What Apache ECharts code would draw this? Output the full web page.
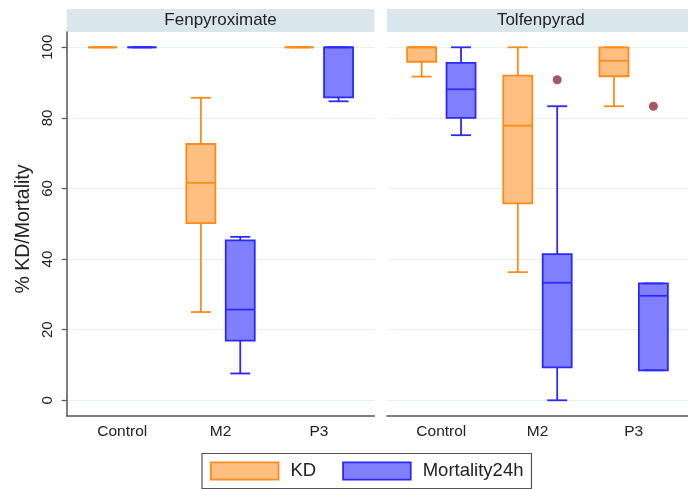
<!DOCTYPE html>
<html><head><meta charset="utf-8">
<script src="https://cdn.jsdelivr.net/npm/echarts@6/dist/echarts.min.js"></script>
<style>html,body{margin:0;padding:0;background:#fff}#c{width:688px;height:489px}</style>
</head><body><div id="c"></div>
<script>
const categories = ['Control', 'M2', 'P3'];
const panels = ['Fenpyroximate', 'Tolfenpyrad'];
const seriesNames = ['KD', 'Mortality24h'];
const yTicks = [0, 20, 40, 60, 80, 100];
// each row: [low whisker, Q1, median, Q3, high whisker] for Control, M2, P3
const fenKD = [[100, 100, 100, 100, 100], [25.0, 50.2, 61.6, 72.6, 85.7], [100, 100, 100, 100, 100]];
const fenMort = [[100, 100, 100, 100, 100], [7.6, 16.9, 25.7, 45.3, 46.3], [84.7, 85.8, 100, 100, 100]];
const tolKD = [[91.7, 95.9, 100, 100, 100], [36.3, 55.8, 77.8, 92.0, 100], [83.3, 91.8, 96.2, 100, 100]];
const tolMort = [[75.1, 80.0, 88.1, 95.6, 100], [0, 9.3, 33.3, 41.4, 83.3], [8.5, 8.5, 29.6, 33.1, 33.1]];
const fenMortOutliers = [];
const tolMortOutliers = [[1, 90.8], [2, 83.3]];

const FONT = '"Liberation Sans", Arial, sans-serif';
const KD_FILL = '#ffbf80', KD_STROKE = '#ff8c1a';
const MO_FILL = '#8080ff', MO_STROKE = '#2a2aff';
const OUT_COLOR = '#8e2e38';
const SIDE_OFF = 19.7, HALF_BOX = 14.5, HALF_CAP = 10, LW = 1.8;

const gridLeft = [66.7, 387];
const gridW = 307.7, gridTop = 32, gridH = 384;

function makeRender(side, fill, stroke) {
  return function (params, api) {
    const x = api.value(0);
    const cx = api.coord([x, 0])[0] + side * SIDE_OFF;
    const yLo = api.coord([x, api.value(1)])[1];
    const yQ1 = api.coord([x, api.value(2)])[1];
    const yMed = api.coord([x, api.value(3)])[1];
    const yQ3 = api.coord([x, api.value(4)])[1];
    const yHi = api.coord([x, api.value(5)])[1];
    const ls = { stroke: stroke, lineWidth: LW, fill: null };
    return {
      type: 'group',
      children: [
        { type: 'rect', shape: { x: cx - HALF_BOX, y: yQ3, width: 2 * HALF_BOX, height: yQ1 - yQ3 }, style: { fill: fill, stroke: stroke, lineWidth: LW } },
        { type: 'line', shape: { x1: cx, y1: yHi, x2: cx, y2: yQ3 }, style: ls },
        { type: 'line', shape: { x1: cx, y1: yQ1, x2: cx, y2: yLo }, style: ls },
        { type: 'line', shape: { x1: cx - HALF_CAP, y1: yHi, x2: cx + HALF_CAP, y2: yHi }, style: ls },
        { type: 'line', shape: { x1: cx - HALF_CAP, y1: yLo, x2: cx + HALF_CAP, y2: yLo }, style: ls },
        { type: 'line', shape: { x1: cx - HALF_BOX, y1: yMed, x2: cx + HALF_BOX, y2: yMed }, style: ls }
      ]
    };
  };
}

function toData(stats) { return stats.map((s, i) => [i].concat(s)); }

const panelData = [
  { kd: fenKD, mort: fenMort, out: fenMortOutliers },
  { kd: tolKD, mort: tolMort, out: tolMortOutliers }
];

const grids = gridLeft.map(l => ({ left: l, top: gridTop, width: gridW, height: gridH }));
const xAxes = panels.map((p, i) => ({
  type: 'value', gridIndex: i, min: -0.565, max: 2.565,
  axisLine: { show: true, onZero: false, lineStyle: { color: '#555', width: 1.5 } },
  axisTick: { show: false, customValues: [0, 1, 2] },
  axisLabel: { customValues: [0, 1, 2], formatter: v => categories[v], fontSize: 15.5, color: '#222', margin: 8, fontFamily: FONT },
  splitLine: { show: false }
}));
const yAxes = panels.map((p, i) => ({
  type: 'value', gridIndex: i, min: -4.45, max: 104.33,
  axisLine: { show: i === 0, onZero: false, lineStyle: { color: '#555', width: 1.5 } },
  axisTick: { show: i === 0, length: 5, customValues: yTicks, lineStyle: { color: '#555', width: 1.2 } },
  axisLabel: { show: i === 0, customValues: yTicks, rotate: 90, fontSize: 15, color: '#222', margin: 11, fontFamily: FONT },
  splitLine: { show: true, lineStyle: { color: '#e6eff1', width: 1.2 } },
  name: i === 0 ? '% KD/Mortality' : '',
  nameLocation: 'middle', nameGap: 33,
  nameTextStyle: { fontSize: 19.5, color: '#222', fontFamily: FONT, padding: [0, 10, 0, 0] }
}));

const series = [];
panelData.forEach((pd, i) => {
  series.push({
    name: seriesNames[0], type: 'custom', xAxisIndex: i, yAxisIndex: i,
    itemStyle: { color: KD_FILL, borderColor: KD_STROKE },
    renderItem: makeRender(-1, KD_FILL, KD_STROKE),
    encode: { x: 0, y: [1, 2, 3, 4, 5] },
    data: toData(pd.kd)
  });
  series.push({
    name: seriesNames[1], type: 'custom', xAxisIndex: i, yAxisIndex: i,
    itemStyle: { color: MO_FILL, borderColor: MO_STROKE },
    renderItem: makeRender(1, MO_FILL, MO_STROKE),
    encode: { x: 0, y: [1, 2, 3, 4, 5] },
    data: toData(pd.mort)
  });
  series.push({
    name: 'outliers', type: 'scatter', xAxisIndex: i, yAxisIndex: i,
    symbol: 'circle', symbolSize: 9, symbolOffset: [SIDE_OFF, 0],
    itemStyle: { color: OUT_COLOR },
    data: pd.out
  });
});

const graphic = [];
panels.forEach((p, i) => {
  graphic.push({ type: 'rect', silent: true, shape: { x: gridLeft[i], y: 9, width: gridW, height: 23 }, style: { fill: '#d9e6eb' } });
  graphic.push({ type: 'text', silent: true, x: gridLeft[i] + gridW / 2, y: 20.5,
    style: { text: p, align: 'center', verticalAlign: 'middle', textAlign: 'center', textVerticalAlign: 'middle',
      font: '17px ' + FONT, fill: '#222' } });
});

const chart = echarts.init(document.getElementById('c'), null, { renderer: 'canvas' });
chart.setOption({
  animation: false,
  backgroundColor: '#fff',
  grid: grids,
  xAxis: xAxes,
  yAxis: yAxes,
  legend: {
    left: 202, top: 453.5, padding: 8, itemGap: 26,
    itemWidth: 67.6, itemHeight: 17.3, icon: 'rect',
    borderColor: '#555', borderWidth: 1.2,
    textStyle: { fontSize: 18.5, color: '#222', fontFamily: FONT, padding: [0, 0, 0, 7] },
    data: [
      { name: seriesNames[0], icon: 'rect', itemStyle: { color: KD_FILL, borderColor: KD_STROKE, borderWidth: 1.8 } },
      { name: seriesNames[1], icon: 'rect', itemStyle: { color: MO_FILL, borderColor: MO_STROKE, borderWidth: 1.8 } }
    ]
  },
  graphic: graphic,
  series: series
});
</script></body></html>
